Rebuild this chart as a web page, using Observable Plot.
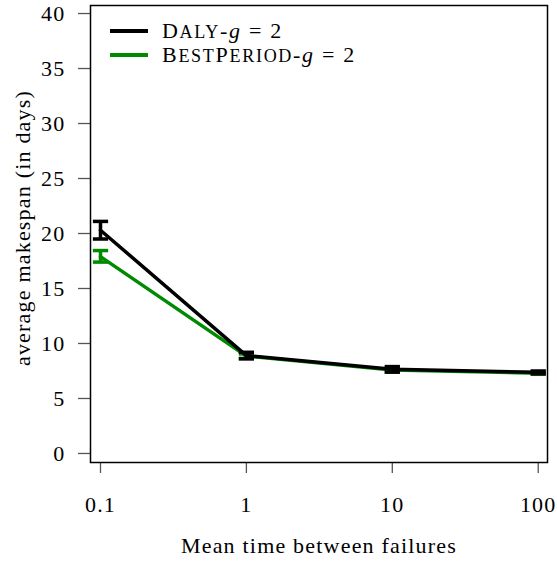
<!DOCTYPE html>
<html><head><meta charset="utf-8">
<script src="https://cdn.jsdelivr.net/npm/d3@7"></script>
<script src="https://cdn.jsdelivr.net/npm/@observablehq/plot@0.6"></script>
<style>
body{margin:0;background:#fff}
#wrap{position:relative;width:557px;height:561px}
#wrap svg text{font-family:"Liberation Serif",serif;letter-spacing:1.2px}
.leg{position:absolute;left:110px;font-family:"Liberation Serif",serif;font-size:22px;line-height:24px;color:#000;letter-spacing:1.7px}
.leg .sw{position:absolute;left:0;width:38px;height:4px}
.leg .tx{position:absolute;left:52px;white-space:nowrap}
.sc{font-size:0.82em}
</style></head><body><div id="wrap"></div>
<script>
const mtbf = [0.1, 1, 10, 100];
const xTicks = [0.1, 1, 10, 100];
const yTicks = [0, 5, 10, 15, 20, 25, 30, 35, 40];
const dalyMean = [20.3, 8.9, 7.65, 7.38];
const dalyLow  = [19.5, 8.6, 7.4, 7.25];
const dalyHigh = [21.1, 9.2, 7.9, 7.5];
const bestMean = [17.9, 8.85, 7.6, 7.3];
const bestLow  = [17.4, 8.65, 7.4, 7.2];
const bestHigh = [18.45, 9.05, 7.8, 7.4];
const seriesNames = ["Daly-g = 2", "BestPeriod-g = 2"];
const seriesColors = ["#000000", "#008a00"];

const daly = mtbf.map((x, i) => ({x, y: dalyMean[i], lo: dalyLow[i], hi: dalyHigh[i]}));
const best = mtbf.map((x, i) => ({x, y: bestMean[i], lo: bestLow[i], hi: bestHigh[i]}));

const capSymbol = {draw(ctx, size) { const w = Math.sqrt(size); ctx.moveTo(-w, 0); ctx.lineTo(w, 0); }};

function errMarks(data, color) {
  return [
    Plot.ruleX(data, {x: "x", y1: "lo", y2: "hi", stroke: color, strokeWidth: 3.5}),
    Plot.dot(data, {x: "x", y: "lo", symbol: capSymbol, r: 4.3, stroke: color, strokeWidth: 3.5, fill: "none"}),
    Plot.dot(data, {x: "x", y: "hi", symbol: capSymbol, r: 4.3, stroke: color, strokeWidth: 3.5, fill: "none"})
  ];
}

const chart = Plot.plot({
  width: 557, height: 561,
  marginLeft: 90, marginRight: 10, marginTop: 5, marginBottom: 99,
  style: {fontFamily: "'Liberation Serif', serif", fontSize: "22px", background: "#fff", color: "#000"},
  x: {type: "log", domain: [Math.pow(10, -1.0685), Math.pow(10, 2.0637)]},
  y: {domain: [-0.82, 40.73]},
  marks: [
    Plot.axisX({ticks: xTicks, tickFormat: d => String(d), tickSize: 11, tickPadding: 23, stroke: "#555", strokeWidth: 1.3, fill: "#000", fontSize: 22, label: null}),
    Plot.axisY({ticks: yTicks, tickSize: 12, tickPadding: 13, stroke: "#555", strokeWidth: 1.3, fill: "#000", fontSize: 22, label: null}),
    Plot.frame({stroke: "#000", strokeWidth: 1.5}),
    Plot.line(best, {x: "x", y: "y", stroke: seriesColors[1], strokeWidth: 3.5}),
    ...errMarks(best, seriesColors[1]),
    Plot.line(daly, {x: "x", y: "y", stroke: seriesColors[0], strokeWidth: 3.5}),
    ...errMarks(daly, seriesColors[0]),
    Plot.text(["average makespan (in days)"], {frameAnchor: "left", dx: -68, dy: -6, rotate: -90, textAnchor: "middle", lineAnchor: "middle", fontSize: 22, fill: "#000"}),
    Plot.text(["Mean time between failures"], {frameAnchor: "bottom", dy: 83, textAnchor: "middle", lineAnchor: "middle", fontSize: 22, fill: "#000"})
  ]
});
const wrap = document.getElementById("wrap");
wrap.appendChild(chart);

const legendHTML = [
  'D<span class="sc">ALY</span>-<i>g</i> = 2',
  'B<span class="sc">EST</span>P<span class="sc">ERIOD</span>-<i>g</i> = 2'
];
const leg = document.createElement("div");
leg.className = "leg";
leg.style.top = "19px";
seriesNames.forEach((name, i) => {
  const row = document.createElement("div");
  row.style.position = "relative"; row.style.height = "24px";
  const sw = document.createElement("div");
  sw.className = "sw"; sw.style.background = seriesColors[i]; sw.style.top = "10px";
  const tx = document.createElement("div");
  tx.className = "tx"; tx.innerHTML = legendHTML[i]; tx.title = name;
  row.appendChild(sw); row.appendChild(tx);
  leg.appendChild(row);
});
wrap.appendChild(leg);
</script>
</body></html>
